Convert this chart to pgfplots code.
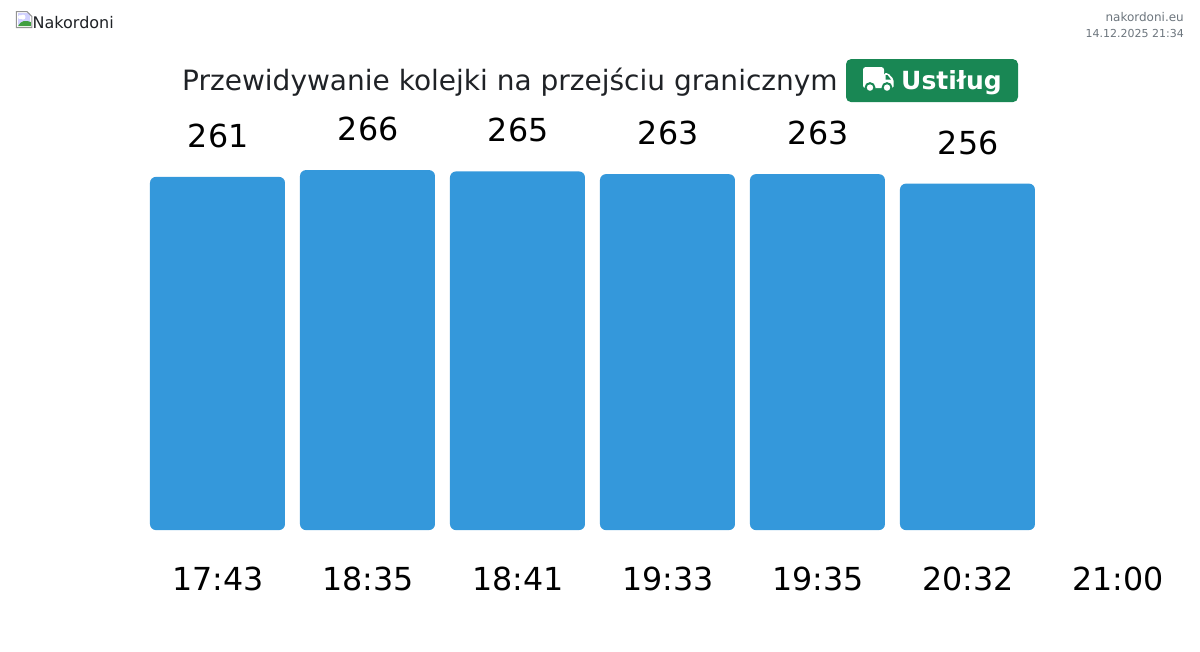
\documentclass[border=0pt]{standalone}
\usepackage{fontspec}
\setmainfont{DejaVu Sans}
\usepackage{pgfplots}
\pgfplotsset{compat=1.18}
\definecolor{bar}{HTML}{3498DB}
\definecolor{dark}{HTML}{1F2226}
\definecolor{muted}{HTML}{6C757D}
\definecolor{btn}{HTML}{198754}
\begin{document}
\begin{tikzpicture}
\begin{axis}[
  anchor=south west, at={(0pt,0pt)},
  scale only axis, width=1050pt, height=530pt,
  xmin=-0.5, xmax=6.5, ymin=0, ymax=391.6,
  axis line style={draw=none}, major tick length=0pt,
  ytick=\empty,
  xtick={0,1,2,3,4,5,6},
  xticklabels={17:43,18:35,18:41,19:33,19:35,20:32,21:00},
  xticklabel style={anchor=base, xshift=0.5pt, yshift=-60pt, font=\fontsize{31.7}{36}\selectfont, text=black},
  /pgf/number format/assume math mode=true,
  clip=false,
  ybar, bar width=135pt,
  nodes near coords,
  every node near coord/.append style={anchor=base, xshift=0.7pt, yshift=29.5pt, font=\fontsize{31.7}{36}\selectfont, text=black},
]
\addplot[fill=bar, draw=none, rounded corners=6pt] coordinates {(0,261) (1,266) (2,265) (3,263) (4,263) (5,256)};
\end{axis}
\begin{scope}[x=1pt,y=-1pt,shift={(-142.5pt,530pt)}]
  \path[use as bounding box] (0,0) rectangle (1200,651);
  % broken image icon
  \fill[white] (16.5,11.5) -- (27,11.5) -- (32,16.5) -- (32,27.5) -- (16.5,27.5) -- cycle;
  \fill[blue!18!white] (18,13) rectangle (30,25);
  \fill[white] (20,17) circle (2) (23,17) circle (2.5);
  \fill[green!50!black!75!white] (18,26) .. controls (21,20) and (26,20) .. (31,22) -- (31,26) -- cycle;
  \draw[gray!85, line width=1pt] (16.5,27.5) -- (16.5,11.5) -- (27,11.5) -- (32,16.5) -- (32,27.5) -- cycle;
  \node[anchor=base west, inner sep=0pt, text=dark, font=\fontsize{16}{18}\selectfont] at (32.5,28) {Nakordoni};
  \node[anchor=base east, inner sep=0pt, text=muted, font=\fontsize{12}{14}\selectfont] at (1184,21) {nakordoni.eu};
  \node[anchor=base east, inner sep=0pt, text=muted, font=\fontsize{11}{14}\selectfont] at (1184,37) {14.12.2025 21:34};
  \node[anchor=base west, inner sep=0pt, text=dark, font=\fontsize{28}{32}\selectfont] at (182,90) {Przewidywanie kolejki na przejściu granicznym};
  \fill[btn, rounded corners=5pt] (846,59) rectangle (1018,102);
  \node[anchor=base west, inner sep=0pt, text=white, font=\fontsize{25}{30}\bfseries\selectfont] at (901,89.5) {Ustiług};
  % truck
  \fill[white, rounded corners=2.5pt] (863,67) rectangle (884,88);
  \fill[white, rounded corners=1.5pt] (884,73) -- (888,73) -- (893.5,79) -- (893.5,88) -- (884,88) -- cycle;
  \fill[btn] (885.5,75) -- (887.5,75) -- (891,79.5) -- (885.5,79.5) -- cycle;
  \fill[btn] (870,87.5) circle (5.5) (887,87.5) circle (5.5);
  \fill[white] (870,87.5) circle (3.2) (887,87.5) circle (3.2);
\end{scope}
\end{tikzpicture}
\end{document}
